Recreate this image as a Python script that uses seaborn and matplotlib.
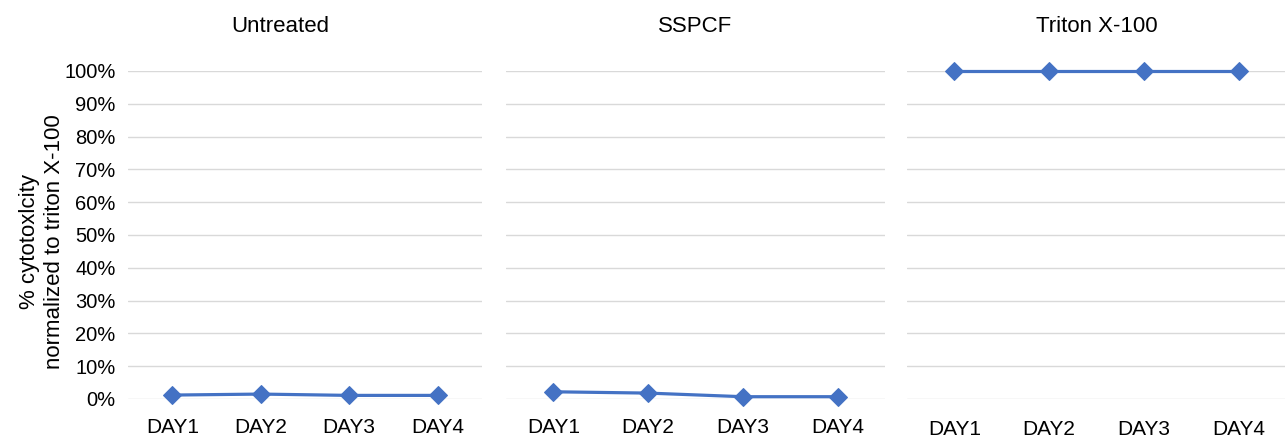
import pandas as pd
import matplotlib
matplotlib.use("Agg")
import matplotlib.pyplot as plt
import seaborn as sns

days = ["DAY1", "DAY2", "DAY3", "DAY4"]
groups = ["Untreated", "SSPCF", "Triton X-100"]
untreated = [1.2, 1.5, 1.1, 1.1]
sspcf = [2.2, 1.8, 0.7, 0.7]
triton = [100, 100, 100, 100]

df = pd.DataFrame({
    "Day": days * 3,
    "Group": [g for g in groups for _ in days],
    "Cytotoxicity": untreated + sspcf + triton,
})

sns.set_style("white")
plt.rcParams["font.family"] = ["Liberation Sans", "DejaVu Sans"]
plt.rcParams["text.color"] = "black"
plt.rcParams["xtick.color"] = "black"
plt.rcParams["ytick.color"] = "black"
plt.rcParams["axes.labelcolor"] = "black"

fig = plt.figure(figsize=(12.85, 4.37), dpi=100)
W, H = 1285, 437
bottom = 1 - 399 / H
height = (399 - 71) / H
panels = [(128, 354), (506, 379), (907, 379)]
blue = "#4472C4"

for i, (grp, (left, width)) in enumerate(zip(groups, panels)):
    ax = fig.add_axes([left / W, bottom, width / W, height])
    sub = df[df["Group"] == grp]
    sns.lineplot(data=sub, x="Day", y="Cytotoxicity", ax=ax, color=blue,
                 marker="D", markersize=9, markeredgecolor=blue,
                 linewidth=2.3, sort=False, clip_on=False, zorder=3)
    ax.set_xlim(-0.5, 3.5)
    ax.set_ylim(0, 100)
    ax.set_yticks(range(0, 101, 10))
    ax.grid(axis="y", color="#d9d9d9", linewidth=1)
    ax.set_axisbelow(True)
    for s in ax.spines.values():
        s.set_visible(False)
    ax.tick_params(axis="x", length=0, pad=14 if i < 2 else 15, labelsize=15)
    ax.tick_params(axis="y", length=0, pad=9, labelsize=14.5)
    ax.set_xlabel("")
    ax.set_title(grp, fontsize=16, pad=28, x=0.43 if i == 0 else 0.5)
    if i == 0:
        ax.set_yticklabels([f"{v}%" for v in range(0, 101, 10)])
        ax.set_ylabel("% cytotoxlcity\nnormalized to triton X-100",
                      fontsize=16, linespacing=1.25)
        ax.yaxis.label.set_va("center")
        ax.yaxis.set_label_coords(-0.243, 0.479)
    else:
        ax.set_yticklabels([])
        ax.set_ylabel("")

fig.savefig("out.png", dpi=100)
